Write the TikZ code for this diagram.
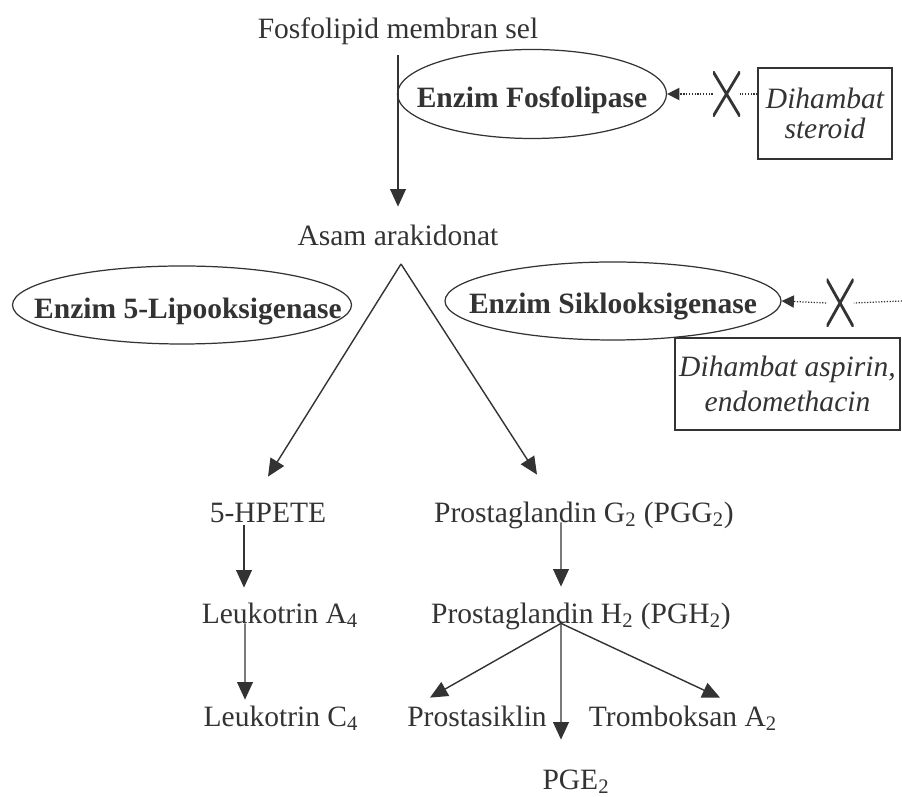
\documentclass[tikz,border=0pt]{standalone}
\usepackage{fontspec}
\setmainfont{Liberation Serif}
\usetikzlibrary{arrows.meta,shapes.geometric}
\definecolor{ink}{HTML}{333333}

\begin{document}
\begin{tikzpicture}[
		color=ink,
		lbl/.style={font=\fontsize{16.8}{20}\selectfont, text height=11.4pt, text depth=0pt, inner sep=0pt},
		enztxt/.style={lbl, font=\fontsize{16.8}{20}\selectfont\bfseries},
		enz/.style={shape=ellipse, draw, line width=0.7pt, inner sep=0pt},
		inhib/.style={shape=rectangle, draw, line width=0.7pt, align=center, inner sep=0pt},
		arr/.style={line width=0.8pt, -{Triangle[length=10pt, width=9pt]}},
		dotline/.style={line width=0.7pt, dash pattern={on 0.7pt off 0.9pt}},
		dotarr/.style={dotline, -{Triangle[length=7pt, width=7pt]}},
		block/.style={shape=rectangle, minimum width=0.54cm, minimum height=0.9cm, inner sep=0pt,
			path picture={\draw[line width=1.6pt] (path picture bounding box.north west) -- (path picture bounding box.south east)
				(path picture bounding box.north east) -- (path picture bounding box.south west);}}
	]
			\useasboundingbox (0, 0) rectangle (18.04, 15.94);
			\node[lbl](fos) at (7.96, 15.38){Fosfolipid membran sel};
			\node[enz, minimum width=5.38cm, minimum height=1.78cm](enzF) at (10.64, 14.06){} node[enztxt] at ([yshift=-0.06cm]enzF.center){Enzim Fosfolipase};
			\node[block](x1) at (14.53, 14.06){};
			\node[inhib, minimum width=2.68cm, minimum height=1.82cm, font=\fontsize{16.8}{17}\selectfont\itshape](stero) at (16.5, 13.67){Dihambat\\steroid};
			\node[lbl](asam) at (7.96, 11.24){Asam arakidonat};
			\coordinate (apex) at (8.02, 10.66);
			\node[enz, minimum width=6.78cm, minimum height=1.56cm](enzL) at (3.64, 9.84){} node[enztxt] at ([xshift=0.12cm, yshift=-0.06cm]enzL.center){Enzim 5-Lipooksigenase};
			\node[enz, minimum width=6.72cm, minimum height=1.56cm](enzS) at (12.26, 9.92){} node[enztxt] at ([yshift=-0.04cm]enzS.center){Enzim Siklooksigenase};
			\node[block, minimum height=0.96cm](x2) at (16.8, 9.88){};
			\coordinate (rim) at (18.04, 9.92);
			\node[inhib, minimum width=4.5cm, minimum height=1.84cm, font=\fontsize{16.8}{20}\selectfont\itshape](aspi) at (15.75, 8.26){Dihambat aspirin,\\endomethacin};
			\node[lbl](hpete) at (5.36, 5.7){5-HPETE};
			\node[lbl](pgg) at (11.68, 5.7){Prostaglandin G\textsubscript{2} (PGG\textsubscript{2})};
			\node[lbl](leuA) at (5.6, 3.68){Leukotrin A\textsubscript{4}};
			\node[lbl](pgh) at (11.62, 3.68){Prostaglandin H\textsubscript{2} (PGH\textsubscript{2})};
			\node[lbl](leuC) at (5.62, 1.62){Leukotrin C\textsubscript{4}};
			\node[lbl](prosta) at (9.54, 1.62){Prostasiklin};
			\node[lbl](trombo) at (13.66, 1.62){Tromboksan A\textsubscript{2}};
			\node[lbl](pge) at (11.52, 0.36){PGE\textsubscript{2}};
			\coordinate (fork) at ([xshift=-0.4cm]pgh.south);
			\draw[arr, shorten <=0.34cm, shorten >=0.36cm] (fos.south) -- (fos.south |- asam.north);
			\draw[dotline] (x1.east -| stero.west) -- (x1.east);
			\draw[dotarr] (x1.west) -- (enzF.east);
			\draw[arr] (apex) -- ([yshift=0.5cm]hpete.north);
			\draw[arr] (apex) -- ([xshift=-0.94cm, yshift=0.54cm]pgg.north);
			\draw[dotline] (rim) -- (x2.east);
			\draw[dotarr] (x2.west) -- (enzS.east);
			\draw[arr, shorten <=0.06cm, shorten >=0.3cm] ([xshift=-0.48cm]hpete.south) -- ([xshift=-0.72cm]leuA.north);
			\draw[arr, shorten >=0.12cm] ([xshift=-0.7cm]leuA.south) -- ([xshift=-0.72cm]leuC.north);
			\draw[arr, shorten >=0.32cm] ([xshift=-0.46cm]pgg.south) -- ([xshift=-0.4cm]pgh.north);
			\draw[arr] (fork) -- ([xshift=-0.94cm, yshift=0.16cm]prosta.north);
			\draw[arr] (fork) -- ([xshift=0.74cm, yshift=0.16cm]trombo.north);
			\draw[arr] (fork) -- ([xshift=-0.3cm, yshift=0.58cm]pge.north);
		\end{tikzpicture}
\end{document}
